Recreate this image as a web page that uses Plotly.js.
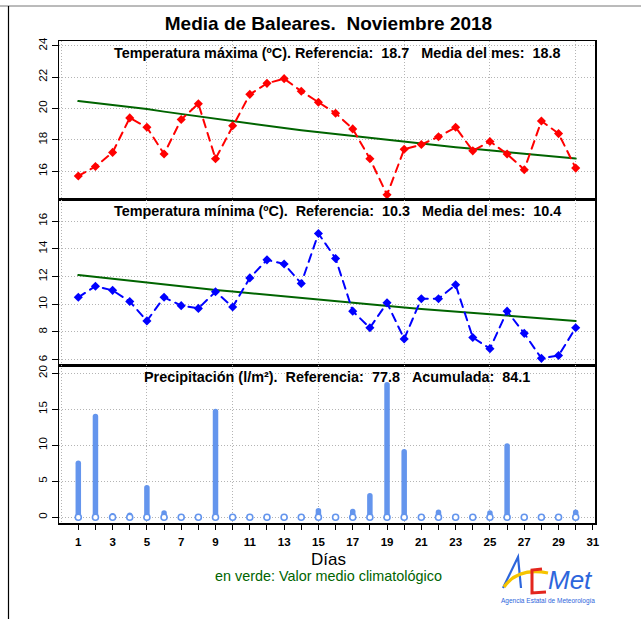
<!DOCTYPE html>
<html>
<head>
<meta charset="utf-8">
<script src="https://cdn.plot.ly/plotly-3.0.1.min.js"></script>
<style>html,body{margin:0;padding:0;background:#fff;}</style>
</head>
<body>
<div id="chart" style="width:641px;height:619px;"></div>
<script>
// ---- data ----
const days = [1,2,3,4,5,6,7,8,9,10,11,12,13,14,15,16,17,18,19,20,21,22,23,24,25,26,27,28,29,30];
const tmax = [15.7,16.3,17.2,19.4,18.8,17.1,19.3,20.3,16.8,18.9,20.9,21.6,21.9,21.1,20.4,19.7,18.7,16.8,14.5,17.4,17.7,18.2,18.8,17.3,17.9,17.1,16.1,19.2,18.4,16.2];
const tmaxClim = [20.47,20.35,20.22,20.09,19.96,19.80,19.65,19.50,19.33,19.17,19.02,18.88,18.75,18.62,18.50,18.37,18.24,18.11,17.98,17.86,17.75,17.64,17.53,17.43,17.33,17.22,17.12,17.01,16.91,16.81];
const tmin = [10.5,11.3,11.0,10.2,8.8,10.5,9.9,9.7,10.9,9.8,11.9,13.2,12.9,11.5,15.1,13.3,9.5,8.3,10.1,7.5,10.4,10.4,11.4,7.6,6.8,9.5,7.9,6.1,6.3,8.3];
const tminClim = [12.10,11.96,11.82,11.68,11.55,11.42,11.29,11.16,11.03,10.91,10.79,10.67,10.55,10.43,10.31,10.20,10.09,9.98,9.87,9.76,9.66,9.56,9.47,9.37,9.28,9.18,9.08,8.99,8.90,8.80];
const precip = [7.5,14.0,0.2,0.3,4.1,0.6,0,0,14.7,0,0,0,0,0,0.9,0,0.8,3.0,18.4,9.1,0,0.7,0,0,0.6,9.9,0,0,0,0.7];
const dayTicks = [1,2,3,4,5,6,7,8,9,10,11,12,13,14,15,16,17,18,19,20,21,22,23,24,25,26,27,28,29,30,31];
const dayTickText = ['1','','3','','5','','7','','9','','11','','13','','15','','17','','19','','21','','23','','25','','27','','29','','31'];
const gridDays = [0,5,10,15,20,25,30];
const tmaxTicks = [16,18,20,22,24];
const tminTicks = [6,8,10,12,14,16];
const precipTicks = [0,5,10,15,20];

const NB = '\u00a0';
const titleText = 'Media de Baleares.' + NB + NB + 'Noviembre 2018';
const lblMax = 'Temperatura máxima (ºC). Referencia:' + NB + NB + '18.7' + NB + NB + NB + 'Media del mes:' + NB + NB + '18.8';
const lblMin = 'Temperatura mínima (ºC).' + NB + NB + 'Referencia:' + NB + NB + '10.3' + NB + NB + NB + 'Media del mes:' + NB + NB + '10.4';
const lblPre = 'Precipitación (l/m²).' + NB + NB + 'Referencia:' + NB + NB + '77.8' + NB + NB + NB + 'Acumulada:' + NB + NB + '84.1';

// ---- geometry helpers (pixel -> paper) ----
const W = 641, H = 619, ML = 59, MR = 46, MT = 41, MB = 96;
const PW = W - ML - MR, PH = H - MT - MB;
const px = x => (x - ML) / PW;
const py = y => (H - MB - y) / PH;

const FONT = 'Liberation Sans, Arial, Helvetica, sans-serif';
const GRIDC = '#b4b4b4';
const XR = [-0.125, 31.125];
const BLUE_LOGO = '#2d66dc';

// precipitation as vertical segments
const bx = [], by = [];
days.forEach((d, i) => { if (precip[i] > 0) { bx.push(d, d, null); by.push(0, precip[i], null); } });

const traces = [
  {x: days, y: tmaxClim, xaxis: 'x', yaxis: 'y', mode: 'lines', line: {color: '#006400', width: 2}},
  {x: days, y: tmax, xaxis: 'x', yaxis: 'y', mode: 'lines+markers',
   line: {color: '#ff0000', width: 2, dash: '8px,6px'}, marker: {symbol: 'diamond', size: 7, color: '#ff0000'}},
  {x: days, y: tminClim, xaxis: 'x2', yaxis: 'y2', mode: 'lines', line: {color: '#006400', width: 2}},
  {x: days, y: tmin, xaxis: 'x2', yaxis: 'y2', mode: 'lines+markers',
   line: {color: '#0000ff', width: 2, dash: '8px,6px'}, marker: {symbol: 'diamond', size: 7, color: '#0000ff'}},
  {x: bx, y: by, xaxis: 'x3', yaxis: 'y3', mode: 'lines', connectgaps: false,
   line: {color: '#6495ed', width: 5.5}},
  {x: days, y: days.map(() => 0), xaxis: 'x4', yaxis: 'y3', mode: 'markers',
   marker: {symbol: 'circle', size: 6, color: '#ffffff', line: {color: '#6495ed', width: 1.6}}}
];

const gridX = {
  range: XR, tickmode: 'array', tickvals: gridDays, showticklabels: false, ticks: '',
  showgrid: true, gridcolor: GRIDC, griddash: '1px,2px', gridwidth: 1,
  showline: true, mirror: true, linecolor: '#000', linewidth: 1.5, zeroline: false, fixedrange: true
};
function yAx(domain, range, ticks) {
  return {
    domain: domain, range: range, tickmode: 'array', tickvals: ticks, tickangle: -90,
    ticks: 'outside', ticklen: 6, tickwidth: 1, tickcolor: '#000',
    tickfont: {family: FONT, size: 11.5, color: '#000'},
    showgrid: true, gridcolor: GRIDC, griddash: '1px,2px', gridwidth: 1,
    showline: true, mirror: true, linecolor: '#000', linewidth: 1.5, zeroline: false, fixedrange: true
  };
}

const d1 = py(199.5), d2 = py(365);
const lblFont = {family: FONT, size: 14.4, color: '#000'};

const layout = {
  width: W, height: H,
  margin: {l: ML, r: MR, t: MT, b: MB},
  paper_bgcolor: '#fff', plot_bgcolor: '#fff',
  showlegend: false,
  font: {family: FONT, color: '#000'},
  title: {text: '<b>' + titleText + '</b>', font: {family: FONT, size: 19, color: '#000'},
          xref: 'paper', x: px(328.5), xanchor: 'center', yref: 'container', y: 1 - 23 / H, yanchor: 'middle'},
  xaxis: Object.assign({}, gridX, {anchor: 'y'}),
  xaxis2: Object.assign({}, gridX, {anchor: 'y2'}),
  xaxis3: Object.assign({}, gridX, {anchor: 'y3'}),
  xaxis4: {range: XR, overlaying: 'x3', anchor: 'y3', side: 'bottom', tickmode: 'array',
           tickvals: dayTicks, ticktext: dayTickText, ticks: 'outside', ticklen: 6, tickwidth: 1, tickcolor: '#000',
           ticklabelstandoff: 2,
           tickfont: {family: FONT, size: 11.5, color: '#000', weight: 'bold'},
           showgrid: false, showline: false, zeroline: false, fixedrange: true},
  yaxis: yAx([d1, 1], [14.20, 24.30], tmaxTicks),
  yaxis2: yAx([d2, d1], [5.62, 17.55], tminTicks),
  yaxis3: yAx([0, d2], [-0.79, 21.15], precipTicks),
  annotations: [
    {text: '<b>' + lblMax + '</b>', xref: 'paper', yref: 'paper', x: px(337), y: py(53), xanchor: 'center', yanchor: 'middle', showarrow: false, font: lblFont},
    {text: '<b>' + lblMin + '</b>', xref: 'paper', yref: 'paper', x: px(337), y: py(211), xanchor: 'center', yanchor: 'middle', showarrow: false, font: lblFont},
    {text: '<b>' + lblPre + '</b>', xref: 'paper', yref: 'paper', x: px(336.5), y: py(377), xanchor: 'center', yanchor: 'middle', showarrow: false, font: lblFont},
    {text: 'Días', xref: 'paper', yref: 'paper', x: px(328), y: py(559), xanchor: 'center', yanchor: 'middle', showarrow: false, font: {family: FONT, size: 17, color: '#000'}},
    {text: 'en verde: Valor medio climatológico', xref: 'paper', yref: 'paper', x: px(328), y: py(576), xanchor: 'center', yanchor: 'middle', showarrow: false, font: {family: FONT, size: 14.4, color: '#006400'}},
    {text: '<i>Met</i>', xref: 'paper', yref: 'paper', x: px(570), y: py(580), xanchor: 'center', yanchor: 'middle', showarrow: false, font: {family: FONT, size: 26, color: BLUE_LOGO}},
    {text: 'Agencia Estatal de Meteorología', xref: 'paper', yref: 'paper', x: px(548), y: py(601), xanchor: 'center', yanchor: 'middle', showarrow: false, font: {family: FONT, size: 6.5, color: BLUE_LOGO}}
  ],
  shapes: [
    // page frame fragments
    {type: 'line', xref: 'paper', yref: 'paper', x0: px(0), x1: px(641), y0: py(6), y1: py(6), line: {color: '#777', width: 1}},
    {type: 'line', xref: 'paper', yref: 'paper', x0: px(8.5), x1: px(8.5), y0: py(6), y1: py(619), line: {color: '#000', width: 1.2}},
    // AEMET logo
    {type: 'path', xref: 'paper', yref: 'paper',
     path: `M ${px(503)} ${py(588)} L ${px(518)} ${py(557)} L ${px(521)} ${py(588)}`,
     line: {color: BLUE_LOGO, width: 2.2}},
    {type: 'path', xref: 'paper', yref: 'paper',
     path: `M ${px(504)} ${py(587)} Q ${px(518)} ${py(567)} ${px(548)} ${py(573)}`,
     line: {color: '#f6c400', width: 3.2}},
    {type: 'path', xref: 'paper', yref: 'paper',
     path: `M ${px(542)} ${py(569)} L ${px(532)} ${py(570)} L ${px(532)} ${py(593)} L ${px(546)} ${py(592)}`,
     line: {color: '#e3261d', width: 3}}
  ]
};

Plotly.newPlot('chart', traces, layout, {staticPlot: true, displayModeBar: false}).then(gd => {
  gd.querySelectorAll('path.js-line').forEach(p => { p.style.strokeLinecap = 'round'; p.style.strokeLinejoin = 'round'; });
});
</script>
</body>
</html>
